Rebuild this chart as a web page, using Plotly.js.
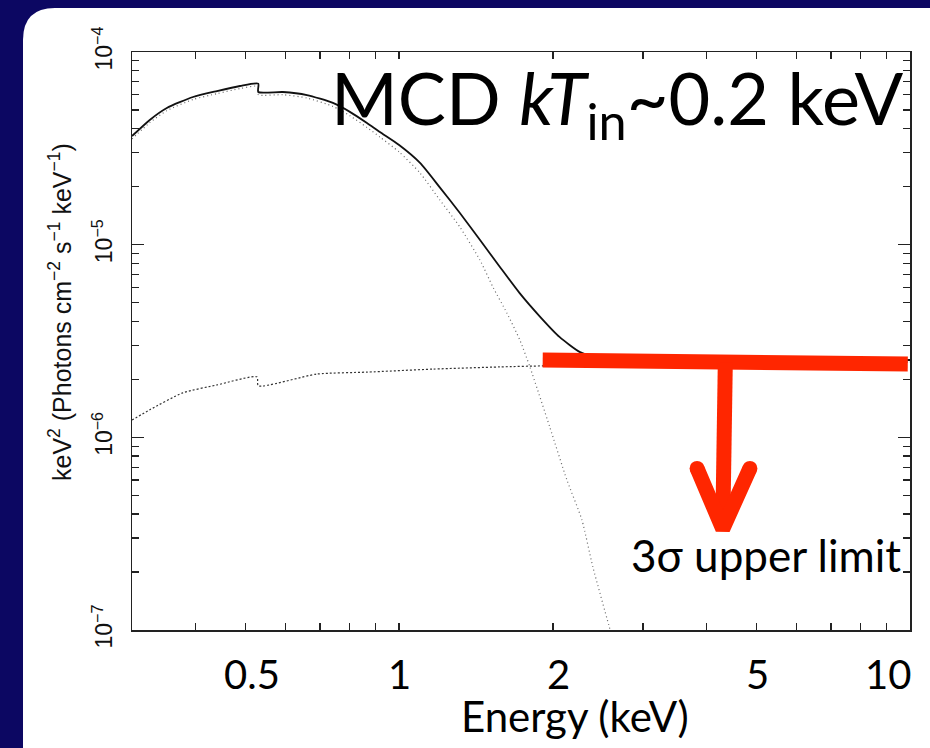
<!DOCTYPE html>
<html><head><meta charset="utf-8">
<script src="https://cdn.plot.ly/plotly-3.0.1.min.js"></script>
<style>html,body{margin:0;padding:0;background:#0c0762;overflow:hidden}#chart{width:930px;height:748px}</style>
</head><body><div id="chart"></div>
<script>
// ---- data ----
const totalEnergy = [0.30, 0.325, 0.351, 0.395, 0.44, 0.488, 0.53, 0.53, 0.592, 0.66, 0.742, 0.801, 0.865, 0.917, 1.0, 1.10, 1.20, 1.315, 1.44, 1.575, 1.72, 1.89, 2.06, 2.26, 2.5, 3.0, 4.0, 6.0, 10];
const totalFlux   = [3.66e-5, 4.44e-5, 5.12e-5, 5.84e-5, 6.27e-5, 6.66e-5, 6.85e-5, 6.20e-5, 6.20e-5, 5.98e-5, 5.44e-5, 4.89e-5, 4.28e-5, 3.84e-5, 3.29e-5, 2.65e-5, 1.99e-5, 1.46e-5, 1.057e-5, 7.66e-6, 5.62e-6, 4.21e-6, 3.32e-6, 2.77e-6, 2.55e-6, 2.44e-6, 2.45e-6, 2.48e-6, 2.52e-6];

const mcdEnergy = [0.30, 0.325, 0.351, 0.395, 0.44, 0.488, 0.53, 0.53, 0.592, 0.66, 0.742, 0.801, 0.865, 0.917, 1.0, 1.098, 1.201, 1.315, 1.439, 1.526, 1.625, 1.723, 1.803, 1.972, 2.13, 2.279, 2.394, 2.573, 2.65];
const mcdFlux   = [3.54e-5, 4.30e-5, 4.96e-5, 5.67e-5, 6.08e-5, 6.46e-5, 6.64e-5, 6.01e-5, 6.00e-5, 5.77e-5, 5.22e-5, 4.67e-5, 4.06e-5, 3.62e-5, 3.03e-5, 2.36e-5, 1.71e-5, 1.235e-5, 8.33e-6, 6.03e-6, 4.42e-6, 3.20e-6, 2.32e-6, 1.13e-6, 6.01e-7, 3.73e-7, 2.13e-7, 1.06e-7, 8.0e-8];

const plEnergy = [0.30, 0.325, 0.377, 0.44, 0.527, 0.53, 0.69, 0.865, 1.164, 1.575, 1.93, 3.0, 5.0, 10];
const plFlux   = [1.23e-6, 1.39e-6, 1.70e-6, 1.87e-6, 2.06e-6, 1.85e-6, 2.13e-6, 2.18e-6, 2.26e-6, 2.32e-6, 2.35e-6, 2.39e-6, 2.42e-6, 2.46e-6];

// 3-sigma upper limit bar and arrow
const limitEnergy = [1.91, 9.9];
const limitFlux   = [2.52e-6, 2.40e-6];
const stemEnergy  = [4.35, 4.30];
const stemFlux    = [2.46e-6, 3.35e-7];
const headEnergy  = [3.83, 4.30, 4.86];
const headFlux    = [6.90e-7, 3.35e-7, 6.90e-7];

// ticks
const xTickVals = [0.5, 1, 2, 5, 10];
const xTickText = ["0.5", "1", "2", "5", "10"];
const xMinorVals = [0.3, 0.4, 0.6, 0.7, 0.8, 0.9, 3, 4, 6, 7, 8, 9];
const yTickVals = [1e-7, 1e-6, 1e-5, 1e-4];
const yTickText = ["10<sup>−7</sup>", "10<sup>−6</sup>", "10<sup>−5</sup>", "10<sup>−4</sup>"];
const yMinorVals = [];
[1e-7, 1e-6, 1e-5].forEach(d => { for (let m = 2; m <= 9; m++) yMinorVals.push(m * d); });

// ---- layout helpers ----
const W = 930, H = 748, L = 132, R = 20, T = 52, B = 118;
const pw = W - L - R, ph = H - T - B;
const px = v => ((v - L) / pw).toFixed(4);
const py = v => (1 - (v - T) / ph).toFixed(4);
function panelPath(x0, y0, x1, y1, r) {
  return `M ${px(x0 + r)} ${py(y0)} L ${px(x1)} ${py(y0)} L ${px(x1)} ${py(y1)} L ${px(x0 + r)} ${py(y1)} ` +
         `Q ${px(x0)} ${py(y1)} ${px(x0)} ${py(y1 - r)} L ${px(x0)} ${py(y0 + r)} Q ${px(x0)} ${py(y0)} ${px(x0 + r)} ${py(y0)} Z`;
}

const RED = '#ff2600';
const slideFont = 'Lato, "Open Sans", sans-serif';
const smooth = { shape: 'spline', smoothing: 0.6 };

const traces = [
  { x: plEnergy, y: plFlux, mode: 'lines', line: Object.assign({ color: '#333', width: 1.2, dash: '2px,2px' }, smooth), hoverinfo: 'skip', name: 'power law' },
  { x: mcdEnergy, y: mcdFlux, mode: 'lines', line: Object.assign({ color: '#666', width: 1.2, dash: '1px,3px' }, smooth), hoverinfo: 'skip', name: 'MCD' },
  { x: totalEnergy, y: totalFlux, mode: 'lines', line: Object.assign({ color: '#111', width: 1.8 }, smooth), hoverinfo: 'skip', name: 'total' },
  { x: limitEnergy, y: limitFlux, mode: 'lines', line: { color: RED, width: 15 }, hoverinfo: 'skip', name: 'limit' },
  { x: stemEnergy, y: stemFlux, mode: 'lines', line: { color: RED, width: 15 }, hoverinfo: 'skip', name: 'stem' },
  { x: headEnergy, y: headFlux, mode: 'lines', line: { color: RED, width: 15 }, hoverinfo: 'skip', name: 'head' },
  { x: [headEnergy[0], headEnergy[2]], y: [headFlux[0], headFlux[2]], mode: 'markers', marker: { color: RED, size: 15 }, hoverinfo: 'skip', name: 'caps' }
];

const axisLine = { showline: true, linecolor: '#222', linewidth: 1.5, mirror: 'ticks', showgrid: false, zeroline: false, ticks: 'inside', tickcolor: '#222', tickwidth: 1.3 };

// x tick labels placed on the x scale (slide-style labels, slightly offset like the reference)
const xLabelShift = [7, 0, 6, 1, -22];
const xLabelAnnotations = xTickVals.map((v, i) => ({
  xref: 'x', yref: 'paper', x: Math.log10(v), y: py(674), xshift: xLabelShift[i],
  xanchor: 'center', yanchor: 'middle', showarrow: false,
  text: xTickText[i], font: { family: slideFont, size: 40, color: '#000' }
}));

const layout = {
  width: W, height: H,
  margin: { l: L, r: R, t: T, b: B },
  paper_bgcolor: '#0c0762',
  plot_bgcolor: 'rgba(0,0,0,0)',
  showlegend: false,
  xaxis: Object.assign({}, axisLine, {
    type: 'log', range: [Math.log10(0.3), 1],
    tickmode: 'array', tickvals: xTickVals, ticktext: xTickText, ticklen: 7,
    showticklabels: false,
    minor: { tickmode: 'array', tickvals: xMinorVals, ticks: 'inside', ticklen: 7, tickcolor: '#222', tickwidth: 1.3 }
  }),
  yaxis: Object.assign({}, axisLine, {
    type: 'log', range: [-7, -4],
    tickmode: 'array', tickvals: yTickVals, ticktext: yTickText, ticklen: 12,
    tickangle: -90,
    tickfont: { family: '"Liberation Sans", Arial, sans-serif', size: 23, color: '#111' },
    ticklabelstandoff: 9,
    minor: { tickmode: 'array', tickvals: yMinorVals, ticks: 'inside', ticklen: 7, tickcolor: '#222', tickwidth: 1.3 }
  }),
  shapes: [
    { type: 'path', xref: 'paper', yref: 'paper', layer: 'below', path: panelPath(23, 8, 960, 790, 32), fillcolor: '#ffffff', line: { width: 0 } }
  ],
  annotations: xLabelAnnotations.concat([
    { xref: 'paper', yref: 'paper', x: px(906), y: py(103), xanchor: 'right', yanchor: 'middle', showarrow: false,
      text: 'MCD <i>kT</i><sub>in</sub>~0.2 keV', font: { family: slideFont, size: 72, color: '#000' } },
    { xref: 'paper', yref: 'paper', x: px(903), y: py(555), xanchor: 'right', yanchor: 'middle', showarrow: false,
      text: '3σ upper limit', font: { family: slideFont, size: 44, color: '#000' } },
    { xref: 'paper', yref: 'paper', x: px(575), y: py(716), xanchor: 'center', yanchor: 'middle', showarrow: false,
      text: 'Energy (keV)', font: { family: slideFont, size: 42, color: '#000' } },
    { xref: 'paper', yref: 'paper', x: px(60), y: py(312), xanchor: 'center', yanchor: 'middle', showarrow: false, textangle: -90,
      text: 'keV<sup>2</sup> (Photons cm<sup>−2</sup> s<sup>−1</sup> keV<sup>−1</sup>)', font: { family: '"Liberation Sans", Arial, sans-serif', size: 25, color: '#111' } }
  ])
};

Plotly.newPlot('chart', traces, layout, { staticPlot: true, displayModeBar: false });
</script>
</body></html>
